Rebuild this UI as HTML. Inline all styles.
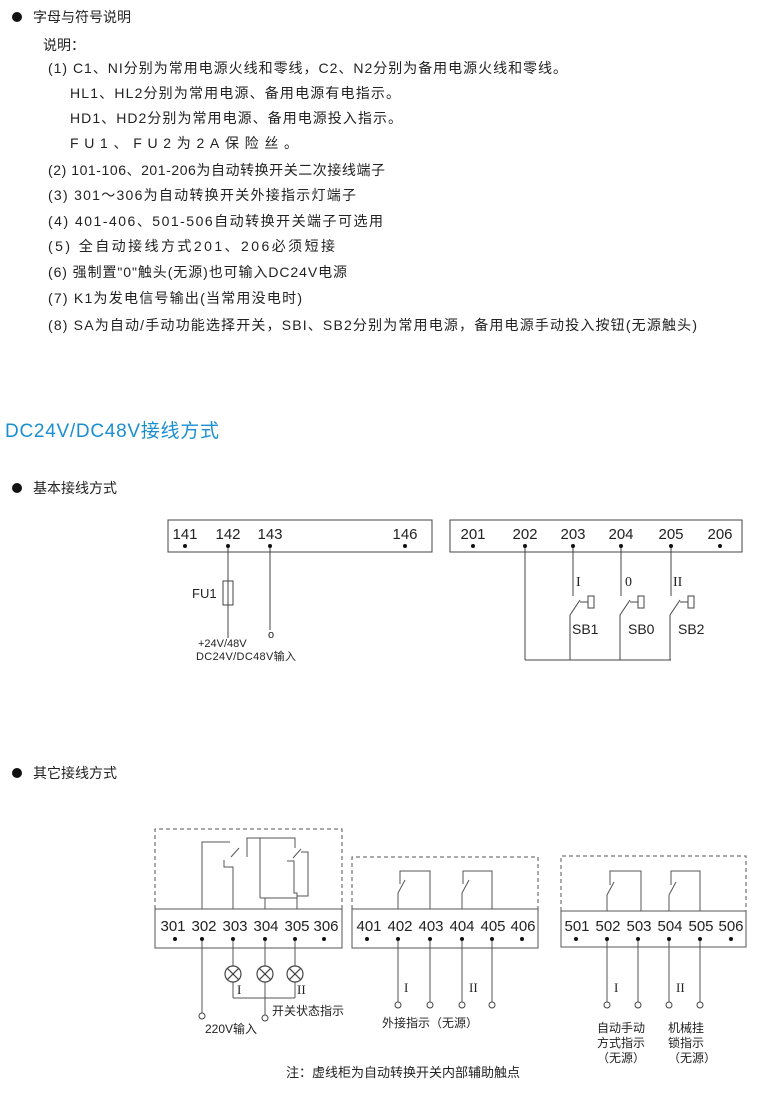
<!DOCTYPE html>
<html><head><meta charset="utf-8"><style>
html,body{margin:0;padding:0;background:#fff;}
svg{display:block;}
text{font-family:"Liberation Sans","Noto Sans CJK SC",sans-serif;fill:#222;}
</style></head><body>
<svg width="760" height="1110" viewBox="0 0 760 1110" xmlns="http://www.w3.org/2000/svg">
<g font-size="14">
<circle cx="17" cy="17" r="5" fill="#111"/>
<text x="33" y="22">字母与符号说明</text>
<text x="43" y="50">说明：</text>
<text x="48" y="73" textLength="519">(1) C1、NI分别为常用电源火线和零线，C2、N2分别为备用电源火线和零线。</text>
<text x="70" y="98" textLength="330">HL1、HL2分别为常用电源、备用电源有电指示。</text>
<text x="70" y="123" textLength="332">HD1、HD2分别为常用电源、备用电源投入指示。</text>
<text x="70" y="148" textLength="228">FU1、FU2为2A保险丝。</text>
<text x="48" y="175" textLength="337">(2) 101-106、201-206为自动转换开关二次接线端子</text>
<text x="48" y="200" textLength="308">(3) 301～306为自动转换开关外接指示灯端子</text>
<text x="48" y="226" textLength="335">(4) 401-406、501-506自动转换开关端子可选用</text>
<text x="48" y="251" textLength="287">(5) 全自动接线方式201、206必须短接</text>
<text x="48" y="277" textLength="299">(6) 强制置"0"触头(无源)也可输入DC24V电源</text>
<text x="48" y="303" textLength="254">(7) K1为发电信号输出(当常用没电时)</text>
<text x="48" y="330" textLength="649">(8) SA为自动/手动功能选择开关，SBI、SB2分别为常用电源，备用电源手动投入按钮(无源触头)</text>
</g>
<text x="5" y="437" font-size="19" style="fill:#1a8fd0" textLength="214">DC24V/DC48V接线方式</text>
<circle cx="17" cy="488" r="5" fill="#111"/>
<text x="33" y="493" font-size="14">基本接线方式</text>

<g stroke="#444" stroke-width="1" fill="none">
<rect x="168" y="520" width="264" height="32"/>
<rect x="450" y="520" width="292" height="32"/>
<line x1="228" y1="546" x2="228" y2="638"/>
<rect x="223" y="581" width="10" height="24"/>
<line x1="270" y1="546" x2="270" y2="630"/>
<line x1="525" y1="546" x2="525" y2="660"/>
<line x1="525" y1="660" x2="671" y2="660"/>
<line x1="573" y1="546" x2="573" y2="596"/>
<line x1="570" y1="615" x2="570" y2="660"/>
<line x1="570" y1="615" x2="580" y2="600"/>
<line x1="580" y1="602" x2="588" y2="602"/>
<rect x="588" y="596" width="6" height="12"/>
<line x1="621" y1="546" x2="621" y2="596"/>
<line x1="620" y1="615" x2="620" y2="660"/>
<line x1="620" y1="615" x2="630" y2="600"/>
<line x1="630" y1="602" x2="638" y2="602"/>
<rect x="638" y="596" width="6" height="12"/>
<line x1="671" y1="546" x2="671" y2="596"/>
<line x1="670" y1="615" x2="670" y2="660"/>
<line x1="670" y1="615" x2="680" y2="600"/>
<line x1="680" y1="602" x2="688" y2="602"/>
<rect x="688" y="596" width="6" height="12"/>
</g>
<g fill="#111">
<circle cx="185" cy="546" r="2"/><circle cx="228" cy="546" r="2"/><circle cx="270" cy="546" r="2"/><circle cx="405" cy="546" r="2"/>
<circle cx="473" cy="546" r="2"/><circle cx="525" cy="546" r="2"/><circle cx="573" cy="546" r="2"/><circle cx="621" cy="546" r="2"/><circle cx="671" cy="546" r="2"/><circle cx="720" cy="546" r="2"/>
</g>
<g font-size="15" text-anchor="middle">
<text x="185" y="539">141</text><text x="228" y="539">142</text><text x="270" y="539">143</text><text x="405" y="539">146</text>
<text x="473" y="539">201</text><text x="525" y="539">202</text><text x="573" y="539">203</text><text x="621" y="539">204</text><text x="671" y="539">205</text><text x="720" y="539">206</text>
</g>
<text x="192" y="598" font-size="13">FU1</text>
<text x="268" y="638" font-size="11">o</text>
<text x="198" y="647" font-size="11">+24V/48V</text>
<text x="196" y="660" font-size="11" textLength="100">DC24V/DC48V输入</text>
<g font-family="Liberation Serif" font-size="14">
<text x="576" y="586" style="font-family:'Liberation Serif',serif">I</text>
<text x="625" y="586" style="font-family:'Liberation Serif',serif">0</text>
<text x="673" y="586" style="font-family:'Liberation Serif',serif">II</text>
</g>
<g font-size="14">
<text x="572" y="634">SB1</text><text x="628" y="634">SB0</text><text x="678" y="634">SB2</text>
</g>

<circle cx="17" cy="773" r="5" fill="#111"/>
<text x="33" y="778" font-size="14">其它接线方式</text>

<!-- lower boxes -->
<g stroke="#555" stroke-width="1" fill="none">
<path d="M155 909 V829 H342 V909" stroke-dasharray="4,3"/>
<path d="M352 909 V857 H538 V909" stroke-dasharray="4,3"/>
<path d="M561 911 V856 H746 V911" stroke-dasharray="4,3"/>
<rect x="155" y="909" width="187" height="39"/>
<rect x="352" y="909" width="186" height="39"/>
<rect x="561" y="911" width="185" height="36"/>
<!-- box A contacts -->
<path d="M202 909 V842 H230"/>
<path d="M233 909 V867 H224 V860"/>
<line x1="231" y1="857" x2="239" y2="848"/>
<path d="M247 857 V838 H260 V898"/>
<path d="M260 898 H297"/>
<path d="M265 909 V898"/>
<path d="M260 838 H295 V848"/>
<path d="M297 909 V893 H294 V861 H287"/>
<line x1="293" y1="858" x2="301" y2="849"/>
<path d="M301 852 H308 V896 H297"/>
<!-- box B contacts -->
<path d="M398 909 V893"/><line x1="398" y1="893" x2="405" y2="880"/>
<path d="M400 884 V871 H430 V909"/>
<path d="M462 909 V893"/><line x1="462" y1="893" x2="469" y2="880"/>
<path d="M463 884 V871 H492 V909"/>
<!-- box C contacts -->
<path d="M607 911 V895"/><line x1="607" y1="895" x2="614" y2="882"/>
<path d="M610 885 V871 H641 V911"/>
<path d="M669 911 V895"/><line x1="669" y1="895" x2="676" y2="882"/>
<path d="M671 885 V871 H700 V911"/>
<!-- lamps -->
<line x1="233" y1="939" x2="233" y2="998"/>
<line x1="265" y1="939" x2="265" y2="1015"/>
<line x1="295" y1="939" x2="295" y2="998"/>
<line x1="233" y1="998" x2="295" y2="998"/>
<line x1="202" y1="939" x2="202" y2="1013"/>
<line x1="398" y1="939" x2="398" y2="1002"/>
<line x1="430" y1="939" x2="430" y2="1002"/>
<line x1="462" y1="939" x2="462" y2="1002"/>
<line x1="492" y1="939" x2="492" y2="1002"/>
<line x1="607" y1="939" x2="607" y2="1002"/>
<line x1="638" y1="939" x2="638" y2="1002"/>
<line x1="669" y1="939" x2="669" y2="1002"/>
<line x1="700" y1="939" x2="700" y2="1002"/>
</g>
<g stroke="#444" stroke-width="1.2" fill="#fff">
<circle cx="233" cy="974" r="8"/><circle cx="265" cy="974" r="8"/><circle cx="295" cy="974" r="8"/>
</g>
<g stroke="#444" stroke-width="1.2">
<path d="M227.3 968.3 L238.7 979.7 M238.7 968.3 L227.3 979.7"/>
<path d="M259.3 968.3 L270.7 979.7 M270.7 968.3 L259.3 979.7"/>
<path d="M289.3 968.3 L300.7 979.7 M300.7 968.3 L289.3 979.7"/>
</g>
<g stroke="#444" stroke-width="1" fill="#fff">
<circle cx="202" cy="1016" r="3"/><circle cx="265" cy="1018" r="3"/>
<circle cx="398" cy="1005" r="3"/><circle cx="430" cy="1005" r="3"/><circle cx="462" cy="1005" r="3"/><circle cx="492" cy="1005" r="3"/>
<circle cx="607" cy="1005" r="3"/><circle cx="638" cy="1005" r="3"/><circle cx="669" cy="1005" r="3"/><circle cx="700" cy="1005" r="3"/>
</g>
<g fill="#111">
<circle cx="175" cy="939" r="2"/><circle cx="202" cy="939" r="2"/><circle cx="233" cy="939" r="2"/><circle cx="265" cy="939" r="2"/><circle cx="295" cy="939" r="2"/><circle cx="324" cy="939" r="2"/>
<circle cx="367" cy="939" r="2"/><circle cx="398" cy="939" r="2"/><circle cx="430" cy="939" r="2"/><circle cx="462" cy="939" r="2"/><circle cx="492" cy="939" r="2"/><circle cx="522" cy="939" r="2"/>
<circle cx="576" cy="939" r="2"/><circle cx="607" cy="939" r="2"/><circle cx="638" cy="939" r="2"/><circle cx="669" cy="939" r="2"/><circle cx="700" cy="939" r="2"/><circle cx="731" cy="939" r="2"/>
</g>
<g font-size="15" text-anchor="middle">
<text x="173" y="931">301</text><text x="204" y="931">302</text><text x="235" y="931">303</text><text x="266" y="931">304</text><text x="297" y="931">305</text><text x="326" y="931">306</text>
<text x="369" y="931">401</text><text x="400" y="931">402</text><text x="431" y="931">403</text><text x="462" y="931">404</text><text x="493" y="931">405</text><text x="523" y="931">406</text>
<text x="577" y="931">501</text><text x="608" y="931">502</text><text x="639" y="931">503</text><text x="670" y="931">504</text><text x="701" y="931">505</text><text x="731" y="931">506</text>
</g>
<g font-size="13" style="font-family:'Liberation Serif',serif">
<text x="237" y="994" style="font-family:'Liberation Serif',serif">I</text>
<text x="297" y="994" style="font-family:'Liberation Serif',serif">II</text>
<text x="404" y="992" style="font-family:'Liberation Serif',serif">I</text>
<text x="469" y="992" style="font-family:'Liberation Serif',serif">II</text>
<text x="614" y="992" style="font-family:'Liberation Serif',serif">I</text>
<text x="676" y="992" style="font-family:'Liberation Serif',serif">II</text>
</g>
<g font-size="12">
<text x="272" y="1015">开关状态指示</text>
<text x="205" y="1033">220V输入</text>
<text x="382" y="1027">外接指示（无源）</text>
<text x="597" y="1032">自动手动</text>
<text x="597" y="1047">方式指示</text>
<text x="597" y="1062">（无源）</text>
<text x="668" y="1032">机械挂</text>
<text x="668" y="1047">锁指示</text>
<text x="668" y="1062">（无源）</text>
<text x="286" y="1077" font-size="13">注：虚线柜为自动转换开关内部辅助触点</text>
</g>
</svg>
</body></html>
